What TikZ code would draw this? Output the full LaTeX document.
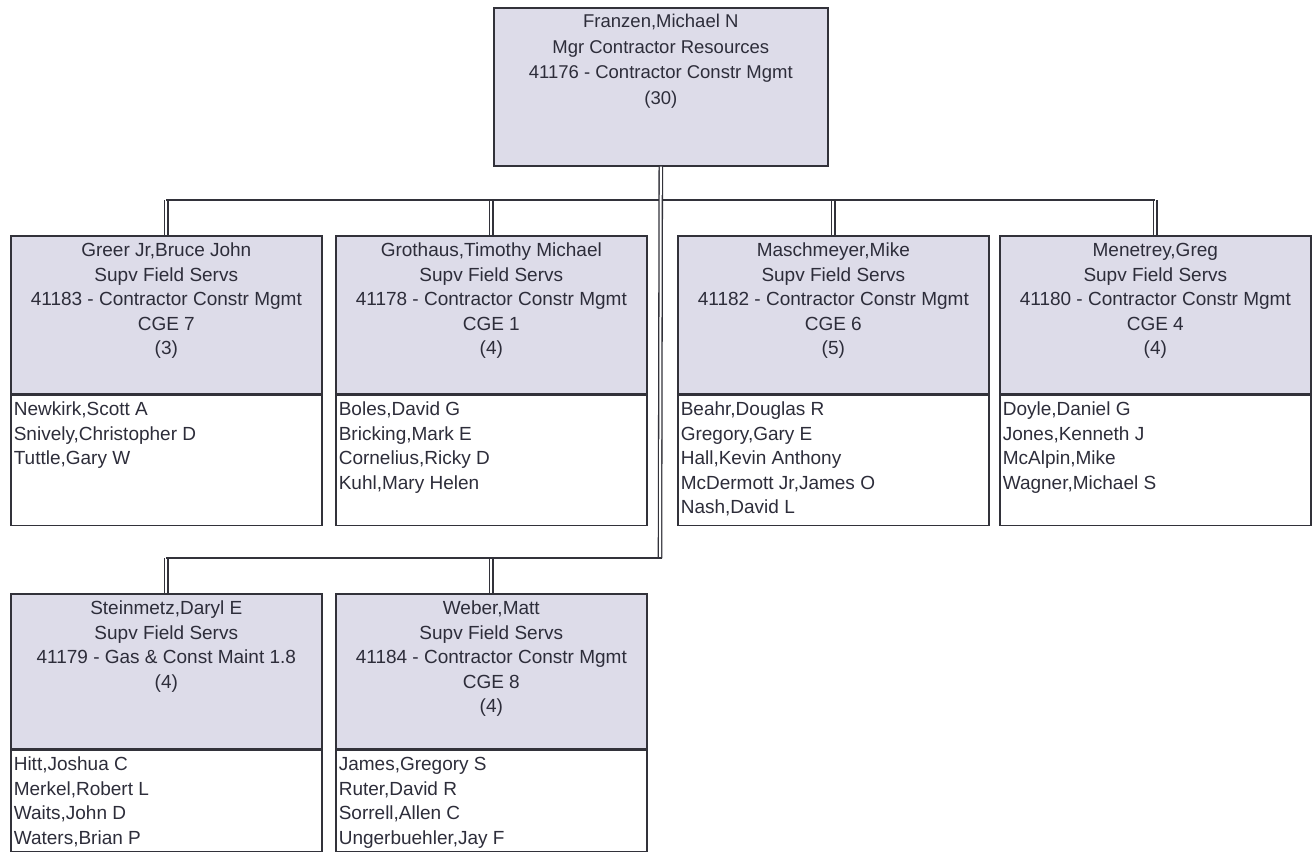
\documentclass[tikz,border=0pt]{standalone}
\usepackage{fontspec}
\setmainfont{Liberation Sans}
\definecolor{boxfill}{RGB}{221,220,233}
\definecolor{edge}{RGB}{50,50,58}
\definecolor{ink}{RGB}{45,45,58}

% header text: centred lines, first baseline fixed by a strut
\newcommand\headtext[5]{\parbox[c][#1][t]{#2}{\centering\fontsize{#3}{#4}\selectfont\rule{0pt}{21pt}#5}}
% staff list: left aligned lines
\newcommand\stafftext[2]{\parbox[c][#1][t]{311pt}{\raggedright\leftskip=3pt\fontsize{19}{24.5}\selectfont\rule{0pt}{20.5pt}#2}}

\tikzset{
  head/.style={draw=edge, line width=1.6pt, fill=boxfill, inner sep=0pt, anchor=north west, text=ink},
  staff/.style={draw=edge, line width=1.6pt, fill=white, inner sep=0pt, anchor=north west, text=ink},
  conn/.style={draw=edge, line width=1.4pt},
  dbl/.style={draw=edge, line width=1.3pt, double=white, double distance=2pt},
}

\begin{document}
\begin{tikzpicture}[x=1pt,y=-1pt]
\useasboundingbox (0,0) rectangle (1312,853);

% manager
\node[head] (top) at (493,7) {\parbox[c][158pt][t]{334pt}{\centering\fontsize{18.5}{25.5}\selectfont\rule{0pt}{20pt}Franzen,Michael N\\Mgr Contractor Resources\\41176 - Contractor Constr Mgmt\\(30)}};

% first row of supervisors
\node[head] (greer) at (10,235) {\headtext{158pt}{311pt}{19}{24.5}{Greer Jr,Bruce John\\Supv Field Servs\\41183 - Contractor Constr Mgmt\\CGE 7\\(3)}};
\node[staff] (greerS) at (greer.south west) {\stafftext{130pt}{Newkirk,Scott A\\Snively,Christopher D\\Tuttle,Gary W}};

\node[head] (grothaus) at (335,235) {\headtext{158pt}{311pt}{19}{24.5}{Grothaus,Timothy Michael\\Supv Field Servs\\41178 - Contractor Constr Mgmt\\CGE 1\\(4)}};
\node[staff] (grothausS) at (grothaus.south west) {\stafftext{130pt}{Boles,David G\\Bricking,Mark E\\Cornelius,Ricky D\\Kuhl,Mary Helen}};

\node[head] (masch) at (677,235) {\headtext{158pt}{311pt}{19}{24.5}{Maschmeyer,Mike\\Supv Field Servs\\41182 - Contractor Constr Mgmt\\CGE 6\\(5)}};
\node[staff] (maschS) at (masch.south west) {\stafftext{130pt}{Beahr,Douglas R\\Gregory,Gary E\\Hall,Kevin Anthony\\McDermott Jr,James O\\Nash,David L}};

\node[head] (menetrey) at (999,235) {\headtext{158pt}{311pt}{19}{24.5}{Menetrey,Greg\\Supv Field Servs\\41180 - Contractor Constr Mgmt\\CGE 4\\(4)}};
\node[staff] (menetreyS) at (menetrey.south west) {\stafftext{130pt}{Doyle,Daniel G\\Jones,Kenneth J\\McAlpin,Mike\\Wagner,Michael S}};

% second row of supervisors
\node[head] (stein) at (10,593) {\headtext{155pt}{311pt}{19}{24.5}{Steinmetz,Daryl E\\Supv Field Servs\\41179 - Gas \& Const Maint 1.8\\(4)}};
\node[staff] (steinS) at (stein.south west) {\stafftext{101pt}{Hitt,Joshua C\\Merkel,Robert L\\Waits,John D\\Waters,Brian P}};

\node[head] (weber) at (335,593) {\headtext{155pt}{311pt}{19}{24.5}{Weber,Matt\\Supv Field Servs\\41184 - Contractor Constr Mgmt\\CGE 8\\(4)}};
\node[staff] (weberS) at (weber.south west) {\stafftext{101pt}{James,Gregory S\\Ruter,David R\\Sorrell,Allen C\\Ungerbuehler,Jay F}};

% connector junction levels
\coordinate (bar1) at (660,200);
\coordinate (bar2) at (660,558);

% drops into the first row
\foreach \n in {greer,grothaus,masch,menetrey}
  \draw[dbl] (\n.north) -- (\n.north |- bar1);
\draw[conn] (greer.north |- bar1) -- (menetrey.north |- bar1);

% trunk from the manager
\draw[dbl] (top.south) -- (bar2);

% drops into the second row
\foreach \n in {stein,weber}
  \draw[dbl] (\n.north) -- (\n.north |- bar2);
\draw[conn] ([xshift=2.3pt]bar2) -- (stein.north |- bar2);
\end{tikzpicture}
\end{document}
